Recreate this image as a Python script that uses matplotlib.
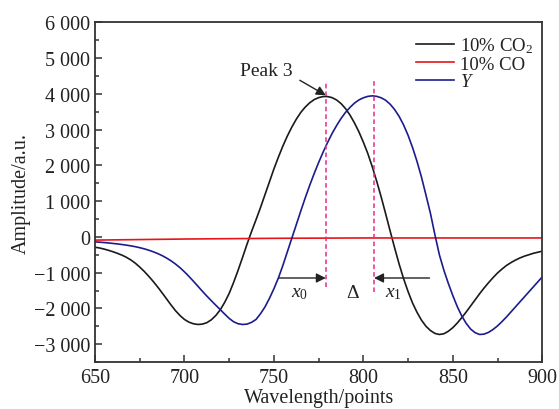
import numpy as np
import matplotlib
matplotlib.use("Agg")
import matplotlib.pyplot as plt
from matplotlib.ticker import MultipleLocator

# ------------------------------------------------------------
# Data
# ------------------------------------------------------------

wl = [650, 652.5, 655, 657.5, 660, 662.5, 665, 667.5, 670, 672.5,
      675, 677.5, 680, 682.5, 685, 687.5, 690, 692.5, 695, 697.5,
      700, 702.5, 705, 707.5, 710, 712.5, 715, 717.5, 720, 722.5,
      725, 727.5, 730, 732.5, 735, 737.5, 740, 742.5, 745, 747.5,
      750, 752.5, 755, 757.5, 760, 762.5, 765, 767.5, 770, 772.5,
      775, 777.5, 780, 782.5, 785, 787.5, 790, 792.5, 795, 797.5,
      800, 802.5, 805, 807.5, 810, 812.5, 815, 817.5, 820, 822.5,
      825, 827.5, 830, 832.5, 835, 837.5, 840, 842.5, 845, 847.5,
      850, 852.5, 855, 857.5, 860, 862.5, 865, 867.5, 870, 872.5,
      875, 877.5, 880, 882.5, 885, 887.5, 890, 892.5, 895, 897.5, 900]

co2 = [-290, -310, -340, -375, -415, -460, -510, -570, -645, -735,
       -845, -965, -1100, -1245, -1400, -1565, -1735, -1905, -2065, -2200,
       -2310, -2385, -2430, -2450, -2440, -2400, -2320, -2200, -2040, -1830,
       -1580, -1270, -930, -570, -200, 150, 480, 820, 1180, 1540,
       1900, 2230, 2540, 2820, 3070, 3290, 3480, 3630, 3750, 3840,
       3895, 3925, 3925, 3895, 3830, 3730, 3590, 3410, 3190, 2940,
       2650, 2330, 1960, 1550, 1110, 640, 160, -310, -760, -1170,
       -1530, -1850, -2110, -2330, -2500, -2620, -2700, -2730, -2710, -2640,
       -2540, -2410, -2260, -2100, -1930, -1760, -1590, -1430, -1280, -1140,
       -1010, -900, -800, -720, -650, -590, -540, -500, -460, -430, -400]

y_sig = [-140, -148, -158, -170, -183, -197, -213, -231, -251, -274,
         -302, -334, -372, -416, -466, -524, -592, -670, -760, -862,
         -978, -1105, -1240, -1380, -1520, -1655, -1785, -1910, -2035, -2160,
         -2280, -2375, -2430, -2450, -2440, -2390, -2310, -2150, -1960, -1720,
         -1450, -1150, -800, -420, -40, 340, 720, 1090, 1440, 1770,
         2080, 2370, 2640, 2890, 3110, 3310, 3480, 3620, 3740, 3830,
         3890, 3930, 3945, 3930, 3890, 3820, 3710, 3560, 3370, 3130,
         2840, 2500, 2110, 1670, 1170, 660, 60, -500, -930, -1300,
         -1640, -1950, -2210, -2420, -2580, -2680, -2730, -2720, -2670, -2590,
         -2490, -2370, -2240, -2100, -1960, -1820, -1680, -1540, -1400, -1260, -1120]

co_wl = [650, 700, 750, 800, 850, 900]
co = [-90, -60, -40, -30, -30, -30]

# peak markers
peak_x0 = 779
peak_x1 = 806
arrow_y = -1150
arrow_left_start = 753
arrow_right_start = 837

yticks = [-3000, -2000, -1000, 0, 1000, 2000, 3000, 4000, 5000, 6000]
ytick_labels = ["\u22123 000", "\u22122 000", "\u22121 000", "0", "1 000",
                "2 000", "3 000", "4 000", "5 000", "6 000"]

# ------------------------------------------------------------
# Style
# ------------------------------------------------------------

plt.rcParams["font.family"] = ["Liberation Serif", "DejaVu Serif"]
plt.rcParams["mathtext.fontset"] = "custom"
plt.rcParams["mathtext.rm"] = "Liberation Serif"
plt.rcParams["mathtext.it"] = "Liberation Serif:italic"

axis_col = "#333333"
text_col = "#222222"
magenta = "#e8288c"

fig = plt.figure(figsize=(5.59, 4.10), dpi=100)
ax = fig.add_axes([0.170, 0.1146, 0.800, 0.8284])

ax.plot(wl, co2, color="#1a1a1a", lw=1.2, label=r"10% CO$_2$")
ax.plot(co_wl, co, color="#e8141c", lw=1.2, label="10% CO")
ax.plot(wl, y_sig, color="#1c1c8c", lw=1.2, label=r"$Y$")

ax.vlines(peak_x0, -1400, 4330, colors=magenta, linestyles=(0, (3, 2)), lw=1.1)
ax.vlines(peak_x1, -1550, 4350, colors=magenta, linestyles=(0, (3, 2)), lw=1.1)

arrow_props = dict(arrowstyle="-|>", color=text_col, lw=1.0,
                   mutation_scale=14, shrinkA=0, shrinkB=0)
ax.annotate("", xy=(peak_x0, arrow_y), xytext=(arrow_left_start, arrow_y),
            arrowprops=arrow_props)
ax.annotate("", xy=(peak_x1, arrow_y), xytext=(arrow_right_start, arrow_y),
            arrowprops=arrow_props)

ax.text(764.5, -1560, r"$x_0$", fontsize=14, ha="center", va="center", color=text_col)
ax.text(794, -1560, r"$\Delta$", fontsize=14, ha="center", va="center", color=text_col)
ax.text(817, -1560, r"$x_1$", fontsize=14, ha="center", va="center", color=text_col)

# Peak 3 label with its arrow
ax.text(746, 4640, "Peak 3", fontsize=14, ha="center", va="center", color=text_col)
ax.annotate("", xy=(peak_x0, 3960), xytext=(764.5, 4380), arrowprops=arrow_props)

ax.set_xlim(650, 900)
ax.set_ylim(-3500, 6000)
ax.xaxis.set_major_locator(MultipleLocator(50))
ax.xaxis.set_minor_locator(MultipleLocator(25))
ax.set_yticks(yticks)
ax.set_yticklabels(ytick_labels)
ax.yaxis.set_minor_locator(MultipleLocator(500))

ax.tick_params(which="both", direction="in", top=False, right=False,
               colors=axis_col, labelcolor=text_col, labelsize=14.5, width=1.1)
ax.tick_params(which="major", length=5)
ax.tick_params(which="minor", length=3)
ax.tick_params(axis="x", pad=4)
for s in ax.spines.values():
    s.set_color(axis_col)
    s.set_linewidth(1.3)

ax.set_xlabel("Wavelength/points", fontsize=14.5, color=text_col, labelpad=1)
ax.set_ylabel("Amplitude/a.u.", fontsize=14.5, color=text_col, labelpad=2)

leg = ax.legend(loc="upper right", bbox_to_anchor=(1.01, 1.0), frameon=False,
                fontsize=13.5, handlelength=2.0, handletextpad=0.35,
                labelspacing=0.02, borderaxespad=0.3)
for t in leg.get_texts():
    t.set_color(text_col)

fig.savefig("out.png", dpi=100)
